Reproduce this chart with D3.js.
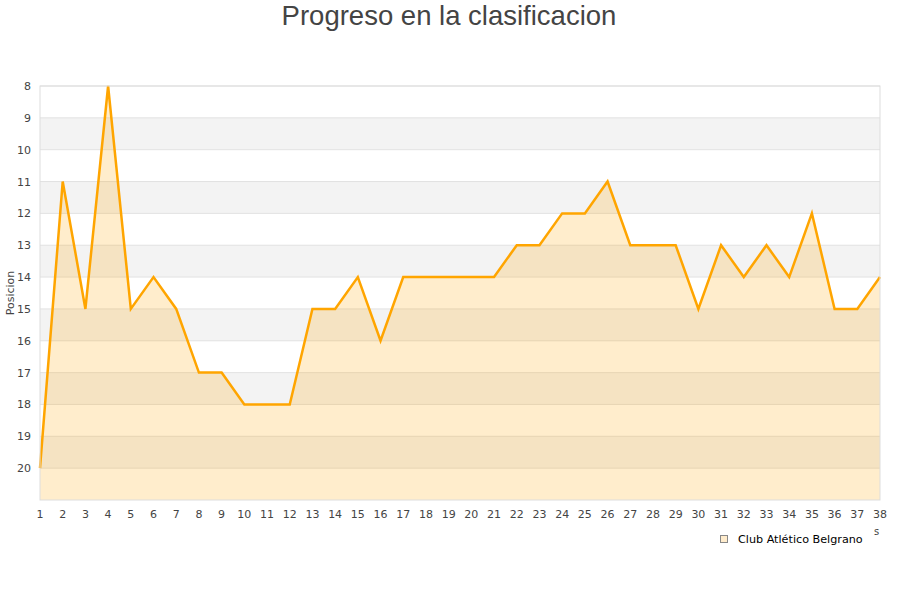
<!DOCTYPE html>
<html>
<head>
<meta charset="utf-8">
<script src="https://cdn.jsdelivr.net/npm/d3@7"></script>
<style>
  body { margin: 0; background: #fff; }
  svg text { font-family: "DejaVu Sans", sans-serif; }
</style>
</head>
<body>
<div id="chart"></div>
<script>
// DATA

const jornadas = d3.range(1, 39);
const posiciones = [20, 11, 15, 8, 15, 14, 15, 17, 17, 18, 18, 18, 15, 15, 14, 16, 14, 14, 14, 14,
                    14, 13, 13, 12, 12, 11, 13, 13, 13, 15, 13, 14, 13, 14, 12, 15, 15, 14];
const yTicks = d3.range(8, 21);
const bandas = [9, 11, 13, 15, 17, 19];
const equipo = "Club Atlético Belgrano";

// SETUP

const setup = {
    width: 900,
    height: 600,
    left: 40,
    right: 880,
    top: 86,
    bottom: 500,
};

var svg = d3.select("#chart")
    .append("svg")
    .attr("width", setup.width)
    .attr("height", setup.height);

var x = d3.scaleLinear().domain([1, 38]).range([setup.left, setup.right]);
var y = d3.scaleLinear().domain([8, 21]).range([setup.top, setup.bottom]);

// title
svg.append("text")
    .attr("x", 449)
    .attr("y", 25)
    .style("text-anchor", "middle")
    .style("font-family", '"Liberation Sans", Arial, sans-serif')
    .style("font-size", "27.5px")
    .style("fill", "#444444")
    .text("Progreso en la clasificacion");

// alternating bands
svg.selectAll(".banda")
    .data(bandas)
    .enter().append("rect")
    .attr("x", setup.left)
    .attr("width", setup.right - setup.left)
    .attr("y", d => y(d))
    .attr("height", d => y(d + 1) - y(d))
    .attr("fill", "#f3f3f3");

// grid lines
svg.selectAll(".grid")
    .data(yTicks)
    .enter().append("line")
    .attr("x1", setup.left)
    .attr("x2", setup.right)
    .attr("y1", d => y(d))
    .attr("y2", d => y(d))
    .attr("stroke", "#e2e2e2");

// area + line
var area = d3.area()
    .x((d, i) => x(jornadas[i]))
    .y0(setup.bottom)
    .y1(d => y(d));

var line = d3.line()
    .x((d, i) => x(jornadas[i]))
    .y(d => y(d));

svg.append("path")
    .datum(posiciones)
    .attr("d", area)
    .attr("fill", "#ffa500")
    .attr("fill-opacity", 0.2);

svg.append("path")
    .datum(posiciones)
    .attr("d", line)
    .attr("fill", "none")
    .attr("stroke", "#ffa500")
    .attr("stroke-width", 2.5);

// frame
svg.append("rect")
    .attr("x", setup.left)
    .attr("y", setup.top)
    .attr("width", setup.right - setup.left)
    .attr("height", setup.bottom - setup.top)
    .attr("fill", "none")
    .attr("stroke", "#dddddd");

// y ticks
svg.selectAll(".ylab")
    .data(yTicks)
    .enter().append("text")
    .attr("x", 31)
    .attr("y", d => y(d) + 4)
    .style("text-anchor", "end")
    .style("font-size", "11px")
    .style("fill", "#444444")
    .text(d => d);

// x ticks
svg.selectAll(".xlab")
    .data(jornadas)
    .enter().append("text")
    .attr("x", d => x(d))
    .attr("y", 518)
    .style("text-anchor", "middle")
    .style("font-size", "11px")
    .style("fill", "#444444")
    .text(d => d);

// y axis title
svg.append("text")
    .attr("transform", "translate(14," + ((setup.top + setup.bottom) / 2) + ") rotate(-90)")
    .style("text-anchor", "middle")
    .style("font-size", "11px")
    .style("fill", "#444444")
    .text("Posicion");

// clipped x axis title remnant
svg.append("text")
    .attr("x", 874)
    .attr("y", 535)
    .style("font-size", "10px")
    .style("fill", "#444444")
    .text("s");

// legend
svg.append("rect")
    .attr("x", 720.5)
    .attr("y", 535.5)
    .attr("width", 7)
    .attr("height", 7)
    .attr("fill", "#ffeccc")
    .attr("stroke", "#888888");

svg.append("text")
    .attr("x", 738)
    .attr("y", 543)
    .style("font-size", "11.2px")
    .style("fill", "#000000")
    .text(equipo);
</script>
</body>
</html>
